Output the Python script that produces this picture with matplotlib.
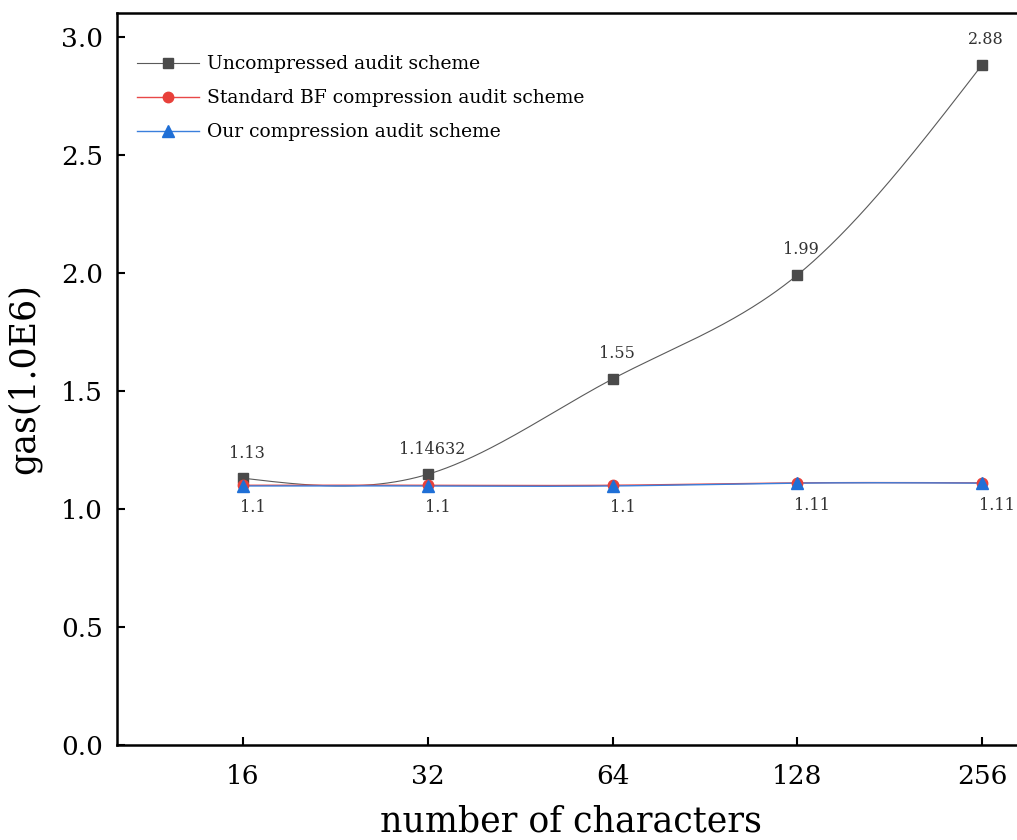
import numpy as np
import matplotlib
matplotlib.use("Agg")
import matplotlib.pyplot as plt

categories = ["16", "32", "64", "128", "256"]
uncompressed = [1.13, 1.14632, 1.55, 1.99, 2.88]
standard_bf = [1.1, 1.1, 1.1, 1.11, 1.11]
ours = [1.097, 1.097, 1.097, 1.109, 1.109]
upper_labels = ["1.13", "1.14632", "1.55", "1.99", "2.88"]
lower_labels = ["1.1", "1.1", "1.1", "1.11", "1.11"]
series_names = ["Uncompressed audit scheme", "Standard BF compression audit scheme",
                "Our compression audit scheme"]

FONT = "DejaVu Serif"
plt.rcParams['font.family'] = [FONT]


def natural_spline(x, y, n=400):
    x = np.asarray(x, float); y = np.asarray(y, float)
    m = len(x); h = np.diff(x)
    A = np.zeros((m, m)); b = np.zeros(m)
    A[0, 0] = A[-1, -1] = 1
    for i in range(1, m - 1):
        A[i, i - 1] = h[i - 1]; A[i, i] = 2 * (h[i - 1] + h[i]); A[i, i + 1] = h[i]
        b[i] = 3 * ((y[i + 1] - y[i]) / h[i] - (y[i] - y[i - 1]) / h[i - 1])
    c = np.linalg.solve(A, b)
    xs = np.linspace(x[0], x[-1], n); ys = np.empty_like(xs)
    for k, xv in enumerate(xs):
        i = min(np.searchsorted(x, xv, side='right') - 1, m - 2)
        dx = xv - x[i]
        bi = (y[i + 1] - y[i]) / h[i] - h[i] * (2 * c[i] + c[i + 1]) / 3
        di = (c[i + 1] - c[i]) / (3 * h[i])
        ys[k] = y[i] + bi * dx + c[i] * dx ** 2 + di * dx ** 3
    return xs, ys


fig = plt.figure(figsize=(10.17, 8.4), dpi=100)
ax = fig.add_axes([117 / 1017, 1 - 745 / 840, (1108 - 117) / 1017, (745 - 13) / 840])
xi = np.arange(len(categories))

styles = [
    (uncompressed, "#4a4a4a", "#5a5a5a", "s", 0.8, 7),
    (standard_bf, "#e8403a", "#e84848", "o", 1.0, 7.5),
    (ours, "#1f6fd6", "#3a7fdc", "^", 1.0, 8),
]
for (vals, mcol, lcol, mk, lw, ms), name in zip(styles, series_names):
    xs, ys = natural_spline(xi, vals)
    ax.plot(xs, ys, color=lcol, lw=lw, zorder=2)
    ax.plot(xi, vals, linestyle='none', marker=mk, color=mcol, markersize=ms, zorder=3)
    ax.plot([], [], color=lcol, lw=lw, marker=mk, markerfacecolor=mcol,
            markeredgecolor=mcol, markersize=ms, label=name)

for x, v, t in zip(xi, uncompressed, upper_labels):
    ax.annotate(t, (x, v), xytext=(3, 12), textcoords='offset points',
                ha='center', va='bottom', fontsize=11.5, color='#333333')
for x, v, t in zip(xi, standard_bf, lower_labels):
    ax.annotate(t, (x, v), xytext=(-2, -10), textcoords='offset points',
                ha='left', va='top', fontsize=11.5, color='#333333')

ax.set_xlim(-0.682, 4.682)
ax.set_ylim(0, 3.1)
ax.set_xticks(xi)
ax.set_xticklabels(categories)
ax.set_yticks(np.arange(0, 3.01, 0.5))
ax.set_yticklabels([f"{v:.1f}" for v in np.arange(0, 3.01, 0.5)])
ax.tick_params(direction='in', length=6, width=1.5, labelsize=19, pad=10)
ax.tick_params(axis='x', pad=14)
for s in ax.spines.values():
    s.set_linewidth(1.8)

ax.set_ylabel("gas(1.0E6)", fontsize=25, labelpad=14)
ax.set_xlabel("number of characters", fontsize=25, labelpad=14)
ax.xaxis.set_label_coords((571 - 117) / 991, -0.081)

leg = ax.legend(loc='upper left', bbox_to_anchor=(0.003, 0.965), frameon=False,
                fontsize=13.5, handlelength=3.3, labelspacing=0.85, handletextpad=0.45)

fig.savefig("out.png", dpi=100)
